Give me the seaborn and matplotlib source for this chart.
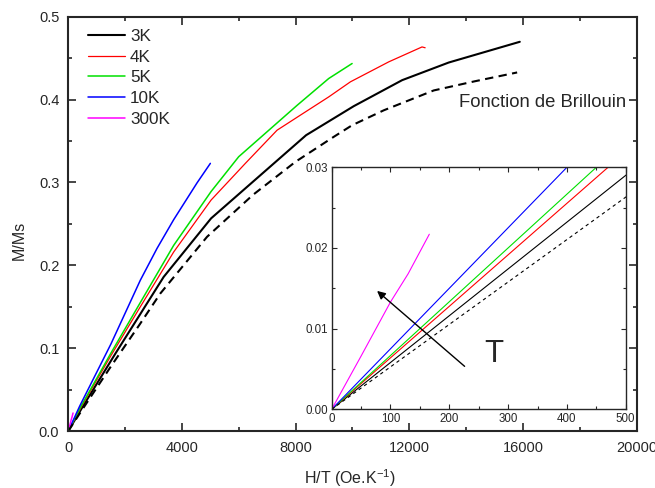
import numpy as np
import pandas as pd
import matplotlib
matplotlib.use("Agg")
import matplotlib.pyplot as plt
from matplotlib.ticker import MultipleLocator
import seaborn as sns

# M/Ms vs H/T
x_3k = [0, 500, 1667, 3357, 5025, 8370, 10046, 11750, 13391, 14271, 15891]
y_3k = [0, 0.029, 0.094, 0.186, 0.2566, 0.357, 0.392, 0.4234, 0.4447, 0.4535, 0.4697]

x_4k = [0, 470, 1500, 2500, 3708, 5025, 6232, 7347, 8169, 9166, 9930, 11279, 12450, 12560]
y_4k = [0, 0.030, 0.091, 0.148, 0.216, 0.2787, 0.323, 0.363, 0.3812, 0.4032, 0.4214, 0.4455, 0.4635, 0.4625]

x_5k = [0, 450, 1500, 2500, 3708, 5025, 5997, 8052, 9166, 9989]
y_5k = [0, 0.030, 0.094, 0.153, 0.224, 0.289, 0.331, 0.393, 0.4254, 0.4435]

x_10k = [0, 400, 1500, 2535, 3123, 3708, 4532, 5000]
y_10k = [0, 0.030, 0.105, 0.182, 0.2204, 0.255, 0.2995, 0.323]

x_300k = [0, 50, 100, 130, 166]
y_300k = [0, 0.0066, 0.0133, 0.0168, 0.0217]

x_bril = [0, 500, 1500, 2500, 3239, 4884, 6500, 8000, 9342, 9989, 11102, 12863, 14300, 15798]
y_bril = [0, 0.0263, 0.078, 0.128, 0.166, 0.2344, 0.285, 0.325, 0.355, 0.369, 0.387, 0.411, 0.422, 0.4327]

labels = ["3K", "4K", "5K", "10K", "300K"]
colors = ["black", "red", "#00e000", "blue", "magenta"]
widths = [1.5, 0.9, 1.1, 1.1, 1.1]
xs = [x_3k, x_4k, x_5k, x_10k, x_300k]
ys = [y_3k, y_4k, y_5k, y_10k, y_300k]

sns.set_style("ticks")
plt.rcParams["font.family"] = ["Liberation Sans", "DejaVu Sans"]
plt.rcParams["mathtext.fontset"] = "custom"
plt.rcParams["mathtext.rm"] = "Liberation Sans"
plt.rcParams["mathtext.it"] = "Liberation Sans:italic"

fig = plt.figure(figsize=(6.55, 4.88), dpi=100)
ax = fig.add_axes([0.1043, 0.1168, 0.8675, 0.849])

for xv, yv, lab, c, w in zip(xs, ys, labels, colors, widths):
    sns.lineplot(x=xv, y=yv, ax=ax, color=c, linewidth=w, label=lab, sort=False, estimator=None)
sns.lineplot(x=x_bril, y=y_bril, ax=ax, color="black", linewidth=1.5,
             linestyle=(0, (4, 2.6)), label="_nolegend_", sort=False, estimator=None)

ax.set_xlim(0, 20000)
ax.set_ylim(0, 0.5)
ax.xaxis.set_major_locator(MultipleLocator(4000))
ax.xaxis.set_minor_locator(MultipleLocator(2000))
ax.yaxis.set_major_locator(MultipleLocator(0.1))
ax.yaxis.set_minor_locator(MultipleLocator(0.05))
ax.yaxis.set_major_formatter(matplotlib.ticker.FormatStrFormatter("%.1f"))
ax.tick_params(which="both", direction="in", top=True, right=True, labelsize=10.5, width=1.2)
ax.tick_params(which="major", length=6)
ax.tick_params(which="minor", length=3)
ax.tick_params(axis="x", pad=7.5)
ax.tick_params(axis="y", pad=6.5)
for s in ax.spines.values():
    s.set_linewidth(1.5)

ax.set_xlabel(r"H/T (Oe.K$^{\mathrm{-1}}$)", fontsize=11.5)
ax.set_ylabel("M/Ms", fontsize=11.5)
ax.xaxis.set_label_coords(0.496, -0.088)
ax.yaxis.set_label_coords(-0.074, 0.461)

ax.legend(loc="upper left", bbox_to_anchor=(0.035, 0.97), frameon=False, fontsize=12.3,
          borderpad=0, borderaxespad=0, labelspacing=0.33, handlelength=2.15, handletextpad=0.3)

ax.text(0.688, 0.781, "Fonction de Brillouin", transform=ax.transAxes, fontsize=13.3, va="baseline")

# inset: low field zoom
axin = fig.add_axes([0.5064, 0.1613, 0.4489, 0.4959])
axin.set_facecolor("white")
for xv, yv, c in zip(xs, ys, colors):
    sns.lineplot(x=xv, y=yv, ax=axin, color=c, linewidth=0.8, legend=False, sort=False, estimator=None)
sns.lineplot(x=x_bril, y=y_bril, ax=axin, color="black", linewidth=0.8,
             linestyle=(0, (3, 3)), legend=False, sort=False, estimator=None)
axin.set_xlim(0, 500)
axin.set_ylim(0, 0.03)
axin.xaxis.set_major_locator(MultipleLocator(100))
axin.xaxis.set_minor_locator(MultipleLocator(50))
axin.yaxis.set_major_locator(MultipleLocator(0.01))
axin.yaxis.set_minor_locator(MultipleLocator(0.005))
axin.yaxis.set_major_formatter(matplotlib.ticker.FormatStrFormatter("%.2f"))
axin.tick_params(which="both", direction="in", top=True, right=True, labelsize=8.3, width=0.8, pad=2.5)
axin.tick_params(which="major", length=3.5)
axin.tick_params(which="minor", length=2)
for s in axin.spines.values():
    s.set_linewidth(1.0)

axin.annotate("", xy=(73.6, 0.0149), xytext=(229.6, 0.0051),
              arrowprops=dict(arrowstyle="-|>", color="black", lw=1.0, mutation_scale=12))
axin.text(276, 0.0059, "T", fontsize=22.5, ha="center", va="baseline")

fig.savefig("out.png", dpi=100)
